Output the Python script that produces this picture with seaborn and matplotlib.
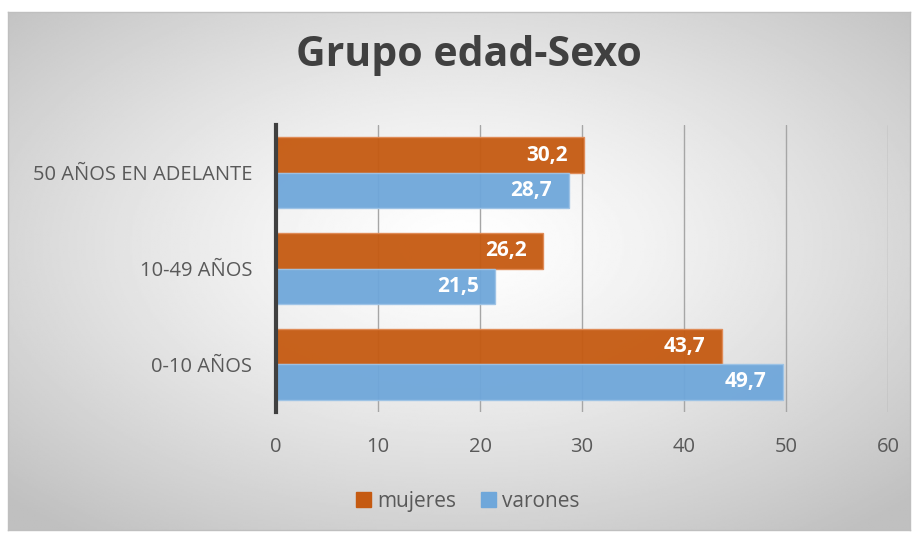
import numpy as np
import pandas as pd
import matplotlib
matplotlib.use("Agg")
import matplotlib.pyplot as plt
import seaborn as sns

# Data
grupos = ["50 AÑOS EN ADELANTE", "10-49 AÑOS", "0-10 AÑOS"]
sexos = ["mujeres", "varones"]
mujeres = [30.2, 26.2, 43.7]
varones = [28.7, 21.5, 49.7]
xticks = [0, 10, 20, 30, 40, 50, 60]

df = pd.DataFrame({
    "grupo": grupos * 2,
    "sexo": ["mujeres"] * len(grupos) + ["varones"] * len(grupos),
    "valor": mujeres + varones,
})

sns.set_style("white")
plt.rcParams['font.family'] = ['Open Sans', 'DejaVu Sans']

colores = {"mujeres": "#C55A11", "varones": "#6FA7DA"}
texto = "#595959"

fig = plt.figure(figsize=(9.17, 5.33), dpi=100)

# Background with radial gradient
bg = fig.add_axes([8 / 917, 3 / 533, 902 / 917, 518 / 533])
yy, xx = np.mgrid[0:1:300j, 0:1:500j]
r = np.sqrt(((xx - 0.5) / 0.5) ** 2 + ((yy - 0.45) / 0.5) ** 2) / np.sqrt(2)
shade = 1.0 - 0.25 * np.clip(r, 0, 1) ** 1.3
bg.imshow(shade, cmap="gray", vmin=0, vmax=1, aspect="auto", extent=[0, 1, 0, 1])
bg.set_xticks([])
bg.set_yticks([])
for s in bg.spines.values():
    s.set_color("#BFBFBF")
    s.set_linewidth(1)

ax = fig.add_axes([276 / 917, 1 - 412 / 533, 612 / 917, 287 / 533])
ax.patch.set_alpha(0)

sns.barplot(data=df, x="valor", y="grupo", hue="sexo", order=grupos,
            hue_order=sexos, palette=colores, orient="h", width=0.74,
            saturation=1, alpha=0.95, linewidth=1, ax=ax, legend=False)

for patch, sexo in zip(ax.patches, ["mujeres"] * 3 + ["varones"] * 3):
    patch.set_edgecolor("#E08A55" if sexo == "mujeres" else "#9DC3E6")

for cont in ax.containers:
    labels = [f"{v:.1f}".replace(".", ",") for v in cont.datavalues]
    txts = ax.bar_label(cont, labels=labels, padding=-12, color="white",
                        fontsize=15, fontweight="bold", label_type="edge")
    for t in txts:
        t.set_ha("right")

ax.set_xlim(0, 60)
ax.set_xticks(xticks)
ax.set_xlabel("")
ax.set_ylabel("")
ax.xaxis.grid(True, color="#A6A6A6", linewidth=1)
ax.set_axisbelow(True)
for s in ["top", "right", "bottom"]:
    ax.spines[s].set_visible(False)
ax.spines["left"].set_color("#404040")
ax.spines["left"].set_linewidth(3)
ax.tick_params(axis="both", length=0, labelsize=14.5, labelcolor=texto)
ax.tick_params(axis="x", pad=18)
ax.tick_params(axis="y", pad=17)

fig.text(0.511, 0.895, "Grupo edad-Sexo", ha="center", va="center",
         fontsize=29.5, fontweight="bold", color="#404040")

handles = [plt.Rectangle((0, 0), 1, 1, color=colores[s]) for s in sexos]
fig.legend(handles, sexos, loc="center", bbox_to_anchor=(0.51, 0.06), ncol=2,
           frameon=False, fontsize=15, labelcolor=texto, handlelength=0.7,
           handleheight=0.7, handletextpad=0.3, columnspacing=1.2)

fig.savefig("out.png", dpi=100)
